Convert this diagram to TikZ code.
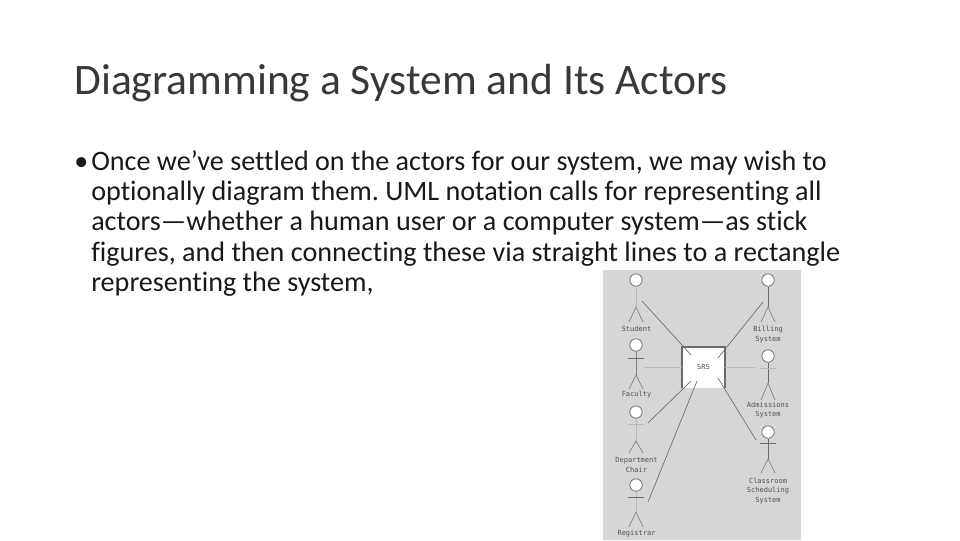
\documentclass[tikz,border=0pt]{standalone}
\usepackage{fontspec}
\setmainfont[Ligatures={NoCommon}]{Carlito}
\setmonofont{DejaVu Sans Mono}
\definecolor{panelgray}{RGB}{213,214,215}
\frenchspacing
\tikzset{
  titletext/.style={anchor=base west,inner sep=0pt,text=black!78,font=\fontsize{32.65pt}{34pt}\selectfont},
  bodytext/.style={anchor=base west,inner sep=0pt,text=black!90,font=\fontsize{21.1pt}{23pt}\selectfont},
  figlabel/.style={inner sep=0pt,align=center,text=black!68,font=\ttfamily\fontsize{5.25pt}{7.1pt}\selectfont},
  head/.style={circle,draw=black!55,fill=white,line width=.6pt,minimum size=9.3pt,inner sep=0pt},
  limb/.style={draw=black!50,line width=.5pt},
  faint/.style={draw=black!28,line width=.5pt},
  conn/.style={draw=black!58,line width=.5pt},
}
\begin{document}
\begin{tikzpicture}[x=.75pt,y=.75pt]
\useasboundingbox (0,0) rectangle (960,-540);
\fill[white] (0,0) rectangle (960,-540);
\node[titletext] (title) at (74,-94) {Diagramming a System and Its Actors};
\node[bodytext] (bullet) at (74,-170) {•};
\node[bodytext] (l1) at (91,-170) {Once we’ve settled on the actors for our system, we may wish to};
\node[bodytext] (l2) at (91,-200) {optionally diagram them. UML notation calls for representing all};
\node[bodytext] (l3) at (91,-230.5) {actors—whether a human user or a computer system—as stick};
\node[bodytext] (l4) at (91,-261) {figures, and then connecting these via straight lines to a rectangle};
\node[bodytext] (l5) at (91,-291) {representing the system,};
\fill[panelgray] (603,-270) rectangle (801,-540);
% SRS box
\fill[white] (682,-347) rectangle (725,-388);
\coordinate (srsBL) at (682,-388);
\coordinate (srsTL) at (682,-347);
\coordinate (srsTR) at (725,-347);
\coordinate (srsBR) at (725,-388);
\draw[conn,line width=.8pt] (srsBL) -- (srsTL) -- (srsTR) -- (srsBR);
\node[figlabel] (srs) at (703.5,-367) {SRS};
% actors: head, body, arms, legs
\foreach \n/\x/\y/\hip/\foot/\arm/\st/\ast in {
  student/636/280/307/322/0/faint/faint,
  billing/768/280/307/322/0/conn/conn,
  faculty/636/345/375/389/358/limb/conn,
  admissions/768/356/383/400/368/conn/faint,
  dept/636/412/441/453/424/faint/faint,
  registrar/636/485/512/527/497/faint/conn,
  classroom/768/432/459/473/443/conn/conn}{
  \node[head] (\n) at (\x,-\y) {};
  \coordinate (\n hip) at (\x,-\hip);
  \coordinate (\n l) at (\x-7,-\foot);
  \coordinate (\n r) at (\x+7,-\foot);
  \draw[\st] (\n) -- (\n hip);
  \draw[limb] (\n l) -- (\n hip) -- (\n r);
  \ifnum\arm>0
    \coordinate (\n al) at (\x-8,-\arm);
    \coordinate (\n ar) at (\x+8,-\arm);
    \draw[\ast] (\n al) -- (\n ar);
  \fi
}
\node[figlabel] (lstudent) at (636.5,-329) {Student};
\node[figlabel] (lbilling) at (768,-334.5) {Billing\\System};
\node[figlabel] (lfaculty) at (636.5,-394.5) {Faculty};
\node[figlabel] (ladmissions) at (768,-410) {Admissions\\System};
\node[figlabel] (ldept) at (636.5,-465) {Department\\Chair};
\node[figlabel] (lclassroom) at (768,-491) {Classroom\\Scheduling\\System};
\node[figlabel] (lregistrar) at (636.5,-533.5) {Registrar};
% connectors
\coordinate (c1a) at (642,-301); \coordinate (c1b) at (691,-355);
\coordinate (c2a) at (763,-302); \coordinate (c2b) at (718,-358);
\coordinate (c3a) at (644,-367); \coordinate (c3b) at (682,-367);
\coordinate (c3c) at (725,-367); \coordinate (c3d) at (755,-367);
\coordinate (c4a) at (648,-423); \coordinate (c4b) at (691,-381);
\coordinate (c5a) at (648,-502); \coordinate (c5b) at (697,-381);
\coordinate (c6a) at (756,-440); \coordinate (c6b) at (718,-378);
\draw[conn] (c1a) -- (c1b);
\draw[conn] (c2a) -- (c2b);
\draw[faint] (c3a) -- (c3b);
\draw[faint] (c3c) -- (c3d);
\draw[conn] (c4a) -- (c4b);
\draw[conn] (c5a) -- (c5b);
\draw[conn] (c6a) -- (c6b);
\end{tikzpicture}
\end{document}
